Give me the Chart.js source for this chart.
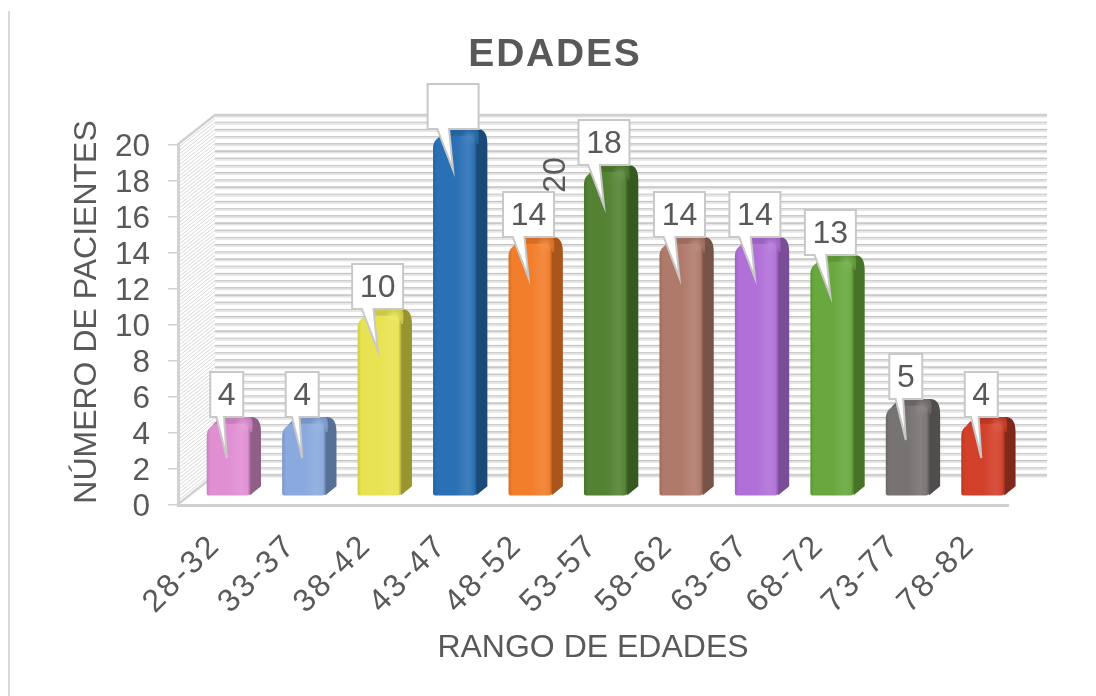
<!doctype html>
<html><head><meta charset="utf-8"><title>EDADES</title>
<style>html,body{margin:0;padding:0;background:#fff}canvas{display:block}</style>
</head>
<body>
<canvas id="c" width="1096" height="696"></canvas>
<script src="https://cdn.jsdelivr.net/npm/chart.js"></script>
<script>
const categories = ['28-32', '33-37', '38-42', '43-47', '48-52', '53-57', '58-62', '63-67', '68-72', '73-77', '78-82']
const pacientes = [4, 4, 10, 20, 14, 18, 14, 14, 13, 5, 4]
const frontColors = ['#e08fd2', '#8aa9de', '#e8e352', '#2a70b4', '#f27d2a', '#528232', '#b07a6a', '#b070d8', '#68a83e', '#787373', '#d2402a']
const sideColors = ['#8f5f88', '#587096', '#98942e', '#1b4a78', '#a8561c', '#35591f', '#785347', '#794e96', '#477329', '#504d4d', '#80281a']

const TEXT = '#595959'
const FONT = 'Liberation Sans, Arial, sans-serif'
// profundidad de la pared y de las barras (px)
const WALL_DX = 38, WALL_DY = 30
const BAR_DX = 11, BAR_DY = 7
const BAR_SHIFT_X = 12.8, BAR_SHIFT_Y = -9
const GRID_STEP = 0.4

function shade(hex, f) {
  const n = parseInt(hex.slice(1), 16)
  const ch = [n >> 16, (n >> 8) & 255, n & 255].map((c) =>
    Math.round(f < 0 ? c * (1 + f) : c + (255 - c) * f))
  return `rgb(${ch.join(',')})`
}

function barFill(c) {
  const col = frontColors[c.dataIndex]
  const x = c.chart.scales.x
  const cx = x ? x.getPixelForValue(c.dataIndex) : NaN
  if (!Number.isFinite(cx)) return col // todavía sin layout
  const g = c.chart.ctx.createLinearGradient(cx - 21.5, 0, cx + 21.5, 0)
  g.addColorStop(0, shade(col, -0.1))
  g.addColorStop(0.08, col)
  g.addColorStop(0.5, col)
  g.addColorStop(0.8, shade(col, 0.1))
  g.addColorStop(0.94, shade(col, 0.03))
  g.addColorStop(1, shade(col, -0.22))
  return g
}

// pared del fondo, pared lateral y línea gris de la izquierda
const wallPlugin = {
  id: 'wall',
  beforeDatasetsDraw(chart) {
    const { ctx, chartArea: a, scales: { y } } = chart
    ctx.save()
    ctx.strokeStyle = '#d9d9d9'
    ctx.lineWidth = 2
    ctx.beginPath()
    ctx.moveTo(9, 11)
    ctx.lineTo(9, 696)
    ctx.stroke()

    const xl = a.left - 1, xb = xl + WALL_DX, xr = a.right + WALL_DX + 1
    // pared lateral, trama más densa
    ctx.lineWidth = 1
    ctx.strokeStyle = '#d8d8d8'
    for (let v = 0; v <= y.max + 0.001; v += GRID_STEP / 2) {
      const py = y.getPixelForValue(v)
      ctx.beginPath()
      ctx.moveTo(xl, py)
      ctx.lineTo(xb, py - WALL_DY)
      ctx.stroke()
    }
    let n = 0
    for (let v = 0; v <= y.max + 0.001; v += GRID_STEP, n++) {
      const py = y.getPixelForValue(v) - WALL_DY
      ctx.lineWidth = 3
      ctx.strokeStyle = '#e6e6e6'
      ctx.beginPath()
      ctx.moveTo(xb, py + 1)
      ctx.lineTo(xr, py + 1)
      ctx.stroke()
      ctx.lineWidth = 1
      ctx.strokeStyle = n % 5 === 0 ? '#b0b0b0' : (n % 2 ? '#cccccc' : '#bebebe')
      ctx.beginPath()
      ctx.moveTo(xb, py)
      ctx.lineTo(xr, py)
      ctx.stroke()
    }
    // bordes
    ctx.strokeStyle = '#d0d0d0'
    ctx.lineWidth = 2.5
    ctx.beginPath()
    ctx.moveTo(xl, a.top)
    ctx.lineTo(xb, a.top - WALL_DY)
    ctx.lineTo(xr, a.top - WALL_DY)
    ctx.moveTo(xl, a.bottom)
    ctx.lineTo(xb, a.bottom - WALL_DY)
    ctx.lineTo(xr, a.bottom - WALL_DY)
    ctx.stroke()
    ctx.restore()
  },
}

// cara lateral y superior detrás de la barra que dibuja Chart.js
const bar3dPlugin = {
  id: 'bar3d',
  beforeDatasetDraw(chart, args) {
    const { ctx } = chart
    ctx.save()
    ctx.translate(BAR_SHIFT_X, BAR_SHIFT_Y)
    args.meta.data.forEach((el, i) => {
      const l = el.x - el.width / 2, r = el.x + el.width / 2, t = el.y, b = el.base
      ctx.fillStyle = sideColors[i]
      ctx.beginPath()
      ctx.moveTo(l + 6, t + 3)
      ctx.quadraticCurveTo(l + 10, t - BAR_DY, l + 18, t - BAR_DY)
      ctx.lineTo(r + 1, t - BAR_DY)
      ctx.quadraticCurveTo(r + BAR_DX, t - BAR_DY, r + BAR_DX, t + 8)
      ctx.lineTo(r + BAR_DX, b - 9)
      ctx.lineTo(r, b)
      ctx.closePath()
      ctx.fill()
      // cara superior
      ctx.fillStyle = shade(frontColors[i], -0.12)
      ctx.beginPath()
      ctx.moveTo(l + 2, t + 6)
      ctx.quadraticCurveTo(l + 10, t - BAR_DY, l + 18, t - BAR_DY)
      ctx.lineTo(r - 1, t - BAR_DY)
      ctx.quadraticCurveTo(r + 4, t - BAR_DY, r + 2, t + 8)
      ctx.lineTo(l + 2, t + 8)
      ctx.closePath()
      ctx.fill()
    })
  },
  afterDatasetDraw(chart, args) {
    const { ctx } = chart
    // brillo en la esquina
    args.meta.data.forEach((el, i) => {
      const gx = el.x + el.width / 2 - 7, gy = el.y + 1
      const g = ctx.createRadialGradient(gx, gy, 0, gx, gy, 9)
      g.addColorStop(0, shade(frontColors[i], 0.14))
      g.addColorStop(1, shade(frontColors[i], 0.14).replace('rgb', 'rgba').replace(')', ',0)'))
      ctx.fillStyle = g
      ctx.fillRect(gx - 9, gy - 9, 18, 18)
    })
    ctx.restore()
  },
}

// etiquetas de datos tipo globo; la de 20 sale girada fuera del globo
const calloutPlugin = {
  id: 'callouts',
  afterDatasetsDraw(chart) {
    const { ctx, scales: { x, y } } = chart
    ctx.save()
    ctx.font = `32px ${FONT}`
    ctx.textAlign = 'center'
    ctx.textBaseline = 'middle'
    pacientes.forEach((v, i) => {
      const tipX = x.getPixelForValue(i) + 11
      const bottom = y.getPixelForValue(v) - 16
      const tipY = bottom + 41 // el inglete de la punta añade unos 5px
      const w = String(v).length > 1 ? 51 : 33
      const h = 45
      const l = tipX - w / 2
      ctx.beginPath()
      ctx.moveTo(l, bottom - h)
      ctx.lineTo(l + w, bottom - h)
      ctx.lineTo(l + w, bottom)
      ctx.lineTo(l + w * 0.42, bottom)
      ctx.lineTo(tipX, tipY)
      ctx.lineTo(l + w * 0.19, bottom)
      ctx.lineTo(l, bottom)
      ctx.closePath()
      ctx.fillStyle = '#fff'
      ctx.fill()
      ctx.strokeStyle = '#c8c8c8'
      ctx.lineWidth = 2
      ctx.lineJoin = 'miter'
      ctx.stroke()
      ctx.fillStyle = TEXT
      if (v === y.max) {
        ctx.save()
        ctx.translate(tipX + 102, y.getPixelForValue(v) + 30)
        ctx.rotate(-Math.PI / 2)
        ctx.fillText(String(v), 0, 1)
        ctx.restore()
      } else {
        ctx.fillText(String(v), tipX, bottom - h / 2 + 2)
      }
    })
    ctx.restore()
  },
}

const chart = new Chart(document.getElementById('c').getContext('2d'), {
  type: 'bar',
  data: {
    labels: categories,
    datasets: [{
      label: 'Número de pacientes',
      data: pacientes,
      backgroundColor: barFill,
      barThickness: 43,
      borderRadius: { topLeft: 12, topRight: 8, bottomLeft: 2, bottomRight: 4 },
      borderSkipped: false,
      clip: false,
    }],
  },
  options: {
    responsive: false,
    animation: false,
    layout: { padding: { left: 68, right: 88, top: 0, bottom: 29 } },
    plugins: {
      legend: { display: false },
      tooltip: { enabled: false },
      title: {
        display: true,
        text: 'EDADES',
        color: TEXT,
        font: { family: FONT, size: 39, weight: 'bold' },
        padding: { top: 29, bottom: 69.2 },
      },
    },
    scales: {
      x: {
        afterFit: (s) => { s.height = 162 },
        grid: { display: false },
        border: { color: '#d0d0d0', width: 3 },
        title: { display: true, text: 'RANGO DE EDADES', color: TEXT, padding: 0, font: { family: FONT, size: 32 } },
        ticks: { color: TEXT, padding: 14, font: { family: FONT, size: 32 }, maxRotation: 45, minRotation: 45, autoSkip: false },
      },
      y: {
        min: 0,
        max: 20,
        afterFit: (s) => { s.width = 110 },
        grid: { drawOnChartArea: false, tickLength: 10, color: '#d0d0d0', lineWidth: 1.5 },
        border: { color: '#d0d0d0', width: 3 },
        title: { display: true, text: 'NÚMERO DE PACIENTES', color: TEXT, padding: 0, font: { family: FONT, size: 32 } },
        ticks: { color: TEXT, stepSize: 2, padding: 18, autoSkip: false, font: { family: FONT, size: 31.5 } },
      },
    },
  },
  plugins: [wallPlugin, bar3dPlugin, calloutPlugin],
})

// ajustes finos que las opciones no cubren: letter-spacing y desplazamientos
function wrapDraw(obj, name, dx, dy, spacing) {
  const orig = obj[name].bind(obj)
  obj[name] = function (...args) {
    const ctx = chart.ctx
    ctx.save()
    ctx.translate(dx, dy)
    if (spacing) ctx.letterSpacing = spacing
    orig(...args)
    ctx.restore()
  }
}
wrapDraw(chart.titleBlock, 'draw', 17, 3, '1.8px')
wrapDraw(chart.scales.y, 'drawTitle', 0, -13)
wrapDraw(chart.scales.y, 'drawLabels', 0, 2.5)
wrapDraw(chart.scales.x, 'drawLabels', 0, 0, '2.6px')
chart.draw()
</script>
</body></html>
